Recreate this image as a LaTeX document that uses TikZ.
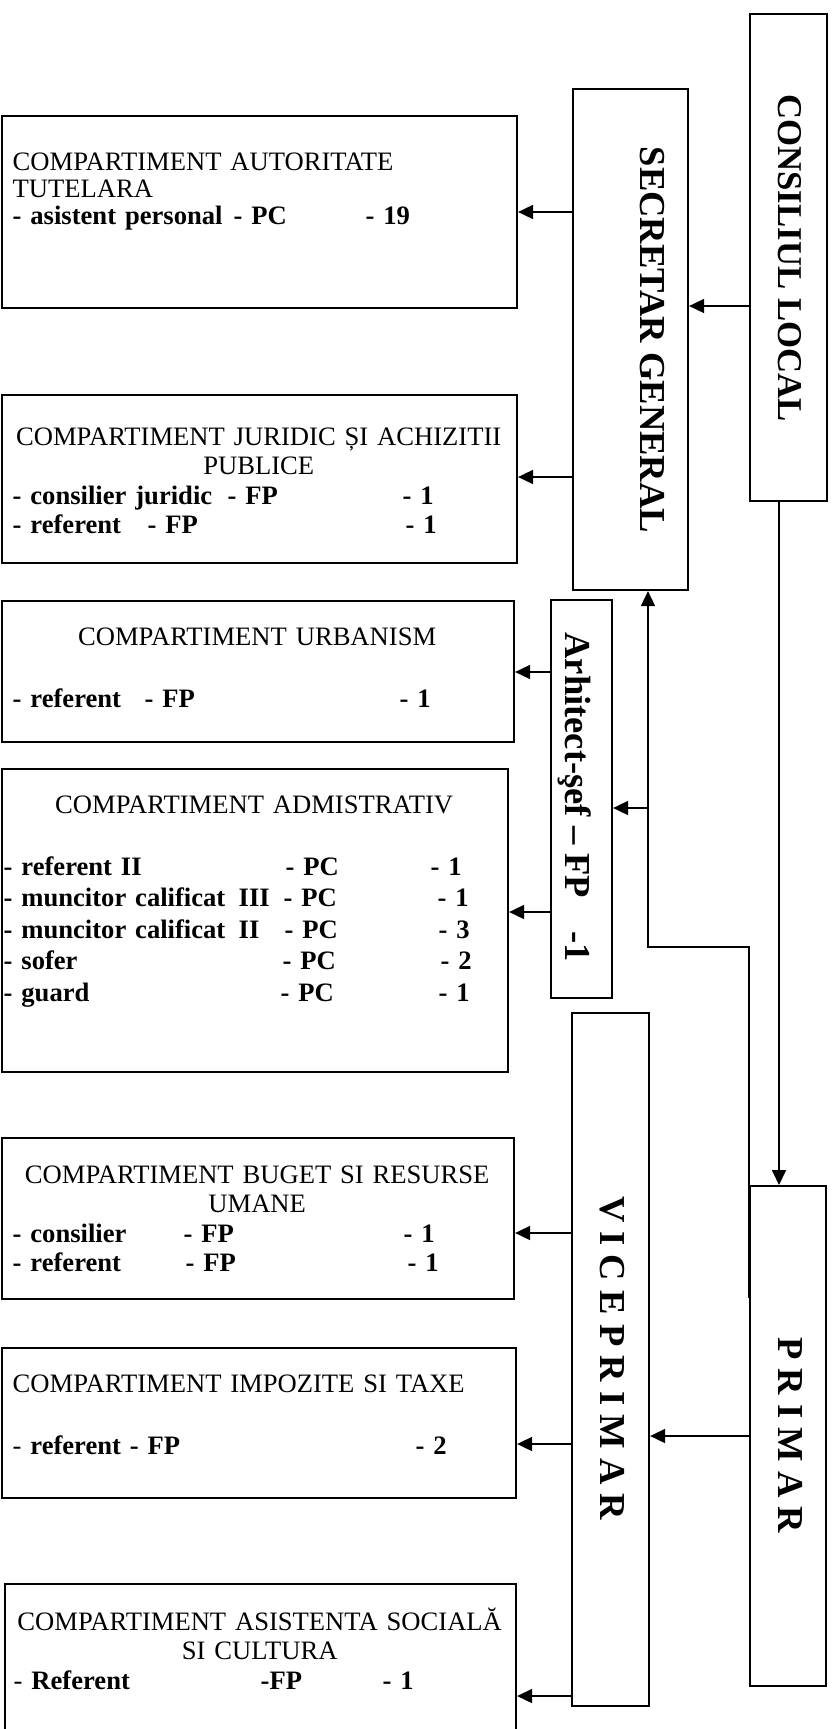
\documentclass[tikz,border=0pt]{standalone}
\usepackage{fontspec}
\setmainfont{Liberation Serif}
\usetikzlibrary{arrows.meta}

\newcommand{\staffrow}[5]{\makebox[\linewidth][l]{\bfseries\rlap{#1}\rlap{\hspace*{#2}#3}\hspace*{#4}#5}}

\begin{document}
\begin{tikzpicture}[
        box/.style={draw,line width=0.6pt,inner sep=0,anchor=north west},
        txt/.style={anchor=base west,inner sep=0,font=\fontsize{7.57}{8.4}\selectfont},
        title/.style={rotate=-90,anchor=base,inner sep=0,font=\fontsize{10.4}{12}\selectfont\bfseries},
        arr/.style={-{Triangle[length=1.5mm,width=1.4mm]},line width=0.5pt}]
    \useasboundingbox (0,0) rectangle (8.34,-17.29);

    \node[box,minimum width=0.77cm,minimum height=4.87cm] (cl) at (7.49,-0.13) {};
    \node[box,minimum width=1.15cm,minimum height=5.01cm] (sg) at (5.72,-0.88) {};
    \node[box,minimum width=0.61cm,minimum height=3.98cm] (arh) at (5.50,-5.99) {};
    \node[box,minimum width=0.77cm,minimum height=6.93cm] (vp) at (5.71,-10.12) {};
    \node[box,minimum width=0.76cm,minimum height=5.00cm] (pr) at (7.49,-11.85) {};

    \node[title,font=\fontsize{9.9}{12}\selectfont\bfseries] (cltxt) at (7.78,-2.58) {CONSILIUL LOCAL};
    \node[title] (sgtxt) at (6.40,-3.40) {SECRETAR GENERAL};
    \node[title] (arhtxt) at (5.65,-7.97) {Arhitect-şef – FP\hspace{0.9em}-1};
    \node[title] (vptxt) at (6.00,-13.58) {V I C E P R I M A R};
    \node[title] (prtxt) at (7.78,-14.35) {P R I M A R};

    \node[box,minimum width=5.15cm,minimum height=1.92cm] (tut) at (0.01,-1.15) {};
    \node[box,minimum width=5.15cm,minimum height=1.68cm] (jur) at (0.01,-3.94) {};
    \node[box,minimum width=5.12cm,minimum height=1.41cm] (urb) at (0.01,-6.00) {};
    \node[box,minimum width=5.06cm,minimum height=3.03cm] (adm) at (0.01,-7.68) {};
    \node[box,minimum width=5.12cm,minimum height=1.61cm] (bug) at (0.01,-11.37) {};
    \node[box,minimum width=5.14cm,minimum height=1.50cm] (imp) at (0.01,-13.47) {};
    \node[box,minimum width=5.11cm,minimum height=1.70cm] (asi) at (0.04,-15.83) {};

    \node[txt,text width=4.92cm,align=left] (tuttxt) at (0.12,-1.70) {COMPARTIMENT AUTORITATE\\[-0.7pt]
        TUTELARA\\[-0.7pt]
        \staffrow{- asistent personal}{2.21cm}{- PC}{3.53cm}{- 19}};
    \node[txt,text width=4.92cm,align=center] (jurtxt) at (0.12,-4.45) {COMPARTIMENT JURIDIC ȘI ACHIZITII\\
        PUBLICE\\
        \staffrow{- consilier juridic}{2.15cm}{- FP}{3.90cm}{- 1}\\
        \staffrow{- referent}{1.35cm}{- FP}{3.93cm}{- 1}};
    \node[txt,text width=4.89cm,align=center] (urbtxt) at (0.12,-6.45) {COMPARTIMENT URBANISM\\[9.5pt]
        \staffrow{- referent}{1.32cm}{- FP}{3.87cm}{- 1}};
    \node[txt,text width=5.01cm,align=center,font=\fontsize{7.57}{8.96}\selectfont] (admtxt) at (0.03,-8.13) {COMPARTIMENT ADMISTRATIV\\[8.7pt]
        \staffrow{- referent II}{2.82cm}{- PC}{4.27cm}{- 1}\\
        \staffrow{- muncitor calificat\ \,III}{2.80cm}{- PC}{4.34cm}{- 1}\\
        \staffrow{- muncitor calificat\ \,II}{2.81cm}{- PC}{4.35cm}{- 3}\\
        \staffrow{- sofer}{2.79cm}{- PC}{4.37cm}{- 2}\\
        \staffrow{- guard}{2.77cm}{- PC}{4.35cm}{- 1}};
    \node[txt,text width=4.89cm,align=center] (bugtxt) at (0.12,-11.83) {COMPARTIMENT BUGET SI RESURSE\\
        UMANE\\
        \staffrow{- consilier}{1.71cm}{- FP}{3.91cm}{- 1}\\
        \staffrow{- referent}{1.73cm}{- FP}{3.95cm}{- 1}};
    \node[txt,text width=4.90cm,align=left] (imptxt) at (0.12,-13.92) {COMPARTIMENT IMPOZITE SI TAXE\\[9.5pt]
        \staffrow{{\mdseries -} referent - FP}{0pt}{}{4.03cm}{- 2}};
    \node[txt,text width=4.92cm,align=center] (asitxt) at (0.13,-16.30) {COMPARTIMENT ASISTENTA SOCIALĂ\\
        SI CULTURA\\
        \staffrow{{\mdseries -} Referent}{2.47cm}{-FP}{3.69cm}{- 1}};

    \coordinate (fork) at (6.48,-8.08);
    \coordinate (bend) at (6.48,-9.47);

    \draw[arr] (cl.west |- 0,-3.06) -- (sg.east |- 0,-3.06);
    \draw[arr] (sg.west |- 0,-2.12) -- (tut.east |- 0,-2.12);
    \draw[arr] (sg.west |- 0,-4.77) -- (jur.east |- 0,-4.77);
    \draw[arr] (cl.south -| 7.79,0) -- (pr.north -| 7.79,0);
    \draw[arr] (pr.west |- 0,-12.98) |- (bend) -- (sg.south -| bend);
    \draw[arr] (fork) -- (arh.east |- fork);
    \draw[arr] (arh.west |- 0,-6.72) -- (urb.east |- 0,-6.72);
    \draw[arr] (arh.west |- 0,-9.12) -- (adm.east |- 0,-9.12);
    \draw[arr] (pr.west |- 0,-14.36) -- (vp.east |- 0,-14.36);
    \draw[arr] (vp.west |- 0,-12.33) -- (bug.east |- 0,-12.33);
    \draw[arr] (vp.west |- 0,-14.44) -- (imp.east |- 0,-14.44);
    \draw[arr] (vp.west |- 0,-16.96) -- (asi.east |- 0,-16.96);
\end{tikzpicture}
\end{document}
